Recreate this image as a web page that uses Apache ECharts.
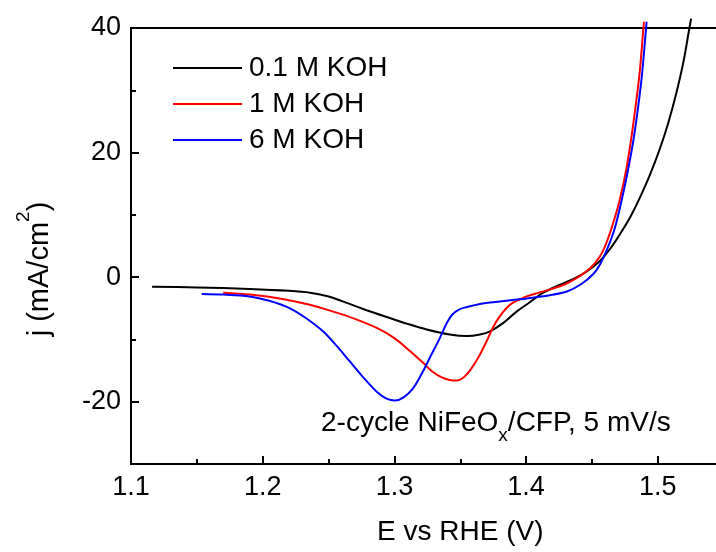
<!DOCTYPE html>
<html><head><meta charset="utf-8">
<script src="https://cdn.jsdelivr.net/npm/echarts@6/dist/echarts.min.js"></script>
<style>html,body{margin:0;padding:0;background:#fff}#c{width:716px;height:552px}</style>
</head><body><div id="c"></div>
<script>
const FONT = '"Liberation Sans", Arial, Helvetica, sans-serif';
const seriesNames = ['0.1 M KOH', '1 M KOH', '6 M KOH'];
const seriesColors = ['#000000', '#ff0000', '#0000ff'];
const yLabelTicks = [-20, 0, 20, 40];

// 0.1 M KOH
const eBlack = [1.116,1.15,1.19,1.22,1.236,1.25,1.266,1.28,1.297,1.31,1.3245,1.342,1.355,1.365,1.3726,1.383,1.393,1.403,1.413,1.425,1.436,1.446,1.456,1.464,1.471,1.479,1.4865,1.494,1.5017,1.5077,1.514,1.5195,1.524,1.5253];
const jBlack = [-1.56,-1.65,-1.9,-2.2,-2.5,-3.1,-4.3,-5.4,-6.6,-7.5,-8.4,-9.2,-9.45,-9.2,-8.7,-7.3,-5.5,-4.0,-2.5,-1.3,-0.3,0.9,2.6,4.6,6.8,9.6,12.8,16.4,20.7,24.6,29.5,34.6,40,41.5];
// 1 M KOH
const eRed = [1.170,1.19,1.215,1.235,1.253,1.27,1.287,1.30,1.312,1.322,1.329,1.336,1.342,1.347,1.352,1.358,1.364,1.370,1.375,1.380,1.385,1.390,1.398,1.408,1.418,1.43,1.441,1.449,1.456,1.461,1.466,1.471,1.476,1.480,1.4835,1.4863,1.4885,1.4895];
const jRed = [-2.5,-2.8,-3.5,-4.4,-5.5,-6.7,-8.2,-9.8,-11.9,-13.8,-15.2,-16.1,-16.5,-16.6,-16.2,-14.8,-12.8,-10.3,-8.0,-6.3,-5.0,-4.1,-3.3,-2.6,-2.0,-1.1,0.2,1.5,3.3,5.5,8.6,12.3,17.2,22.5,28.0,33.0,38.5,41];
// 6 M KOH
const eBlue = [1.1537,1.17,1.19,1.205,1.2207,1.233,1.2458,1.256,1.266,1.276,1.2866,1.294,1.3005,1.307,1.314,1.320,1.327,1.334,1.3397,1.344,1.349,1.355,1.365,1.380,1.393,1.405,1.418,1.431,1.442,1.451,1.456,1.461,1.467,1.4725,1.477,1.4815,1.485,1.488,1.4905,1.4915];
const jBlue = [-2.7,-2.8,-3.1,-3.8,-5.0,-6.6,-8.7,-11.0,-13.5,-16.0,-18.4,-19.5,-19.8,-19.3,-17.9,-15.8,-12.9,-10.0,-7.4,-6.0,-5.2,-4.8,-4.3,-3.9,-3.6,-3.3,-2.9,-2.3,-1.1,0.5,2.0,4.2,7.6,12.3,16.8,22.0,27.2,32.5,38.5,41];

const zip = (xs, ys) => xs.map((x, i) => [x, ys[i]]);
const seriesData = [zip(eBlack, jBlack), zip(eRed, jRed), zip(eBlue, jBlue)];

const chart = echarts.init(document.getElementById('c'), null, {renderer: 'canvas'});
const axisLineStyle = {color: '#000', width: 2};
chart.setOption({
  animation: false,
  backgroundColor: '#fff',
  textStyle: {fontFamily: FONT, color: '#000'},
  grid: {left: 131, top: 28, width: 658.5, height: 436, containLabel: false, outerBoundsMode: 'none',
    show: true, borderColor: '#000', borderWidth: 2, backgroundColor: 'transparent'},
  legend: {
    data: seriesNames, orient: 'vertical', left: 173, top: 54, padding: 0,
    icon: 'rect', itemWidth: 69, itemHeight: 2, itemGap: 8,
    textStyle: {fontFamily: FONT, fontSize: 28, color: '#000', padding: [0, 0, 0, 2]}
  },
  xAxis: [{
    type: 'value', min: 1.1, max: 1.6, interval: 0.1,
    name: 'E vs RHE (V)', nameLocation: 'middle', nameGap: 54,
    nameTextStyle: {fontFamily: FONT, fontSize: 28, color: '#000'},
    axisLine: {show: true, onZero: false, lineStyle: axisLineStyle},
    axisTick: {show: true, inside: true, length: 8, lineStyle: axisLineStyle},
    splitLine: {show: false},
    axisLabel: {fontFamily: FONT, fontSize: 27, color: '#000', margin: 10, formatter: v => v.toFixed(1)}
  }, {
    type: 'value', min: 1.1, max: 1.6, interval: 0.05, position: 'bottom',
    axisLine: {show: false, onZero: false},
    axisTick: {show: true, inside: true, length: 5, lineStyle: axisLineStyle},
    splitLine: {show: false},
    axisLabel: {show: false}
  }],
  yAxis: [{
    type: 'value', min: -30, max: 40, interval: 10,
    axisLine: {show: true, onZero: false, lineStyle: axisLineStyle},
    axisTick: {show: true, inside: true, length: 5, lineStyle: axisLineStyle},
    splitLine: {show: false},
    axisLabel: {fontFamily: FONT, fontSize: 27, color: '#000', margin: 10,
      formatter: v => (yLabelTicks.indexOf(Math.round(v)) >= 0 ? String(Math.round(v)) : '')}
  }, {
    type: 'value', min: -30, max: 40, interval: 10, position: 'left',
    axisLine: {show: false, onZero: false},
    axisTick: {show: true, inside: true, length: 8, lineStyle: axisLineStyle, customValues: yLabelTicks},
    splitLine: {show: false},
    axisLabel: {show: false}
  }],
  graphic: [{
    type: 'text', x: 32, y: 269, rotation: Math.PI / 2,
    style: {
      text: '{a|j (mA/cm}{s|2}{a|)}',
      align: 'center', verticalAlign: 'middle', fill: '#000',
      rich: {
        a: {fontFamily: FONT, fontSize: 29, lineHeight: 44, verticalAlign: 'bottom', fill: '#000'},
        s: {fontFamily: FONT, fontSize: 19, lineHeight: 19, verticalAlign: 'top', fill: '#000', padding: [4, 0, 0, 0]}
      }
    }
  }, {
    type: 'text', x: 321, y: 401.5,
    style: {
      text: '{a|2-cycle NiFeO}{b|x}{a|/CFP, 5 mV/s}',
      align: 'left', verticalAlign: 'top', fill: '#000',
      rich: {
        a: {fontFamily: FONT, fontSize: 28, lineHeight: 44, verticalAlign: 'middle', fill: '#000'},
        b: {fontFamily: FONT, fontSize: 19, lineHeight: 19, verticalAlign: 'bottom', fill: '#000'}
      }
    }
  }],
  series: seriesNames.map((n, i) => ({
    name: n, type: 'line', data: seriesData[i], xAxisIndex: 0, yAxisIndex: 0,
    showSymbol: false, symbol: 'none', smooth: 0.3, clip: false,
    lineStyle: {color: seriesColors[i], width: 2}, itemStyle: {color: seriesColors[i]}
  }))
});
</script></body></html>
